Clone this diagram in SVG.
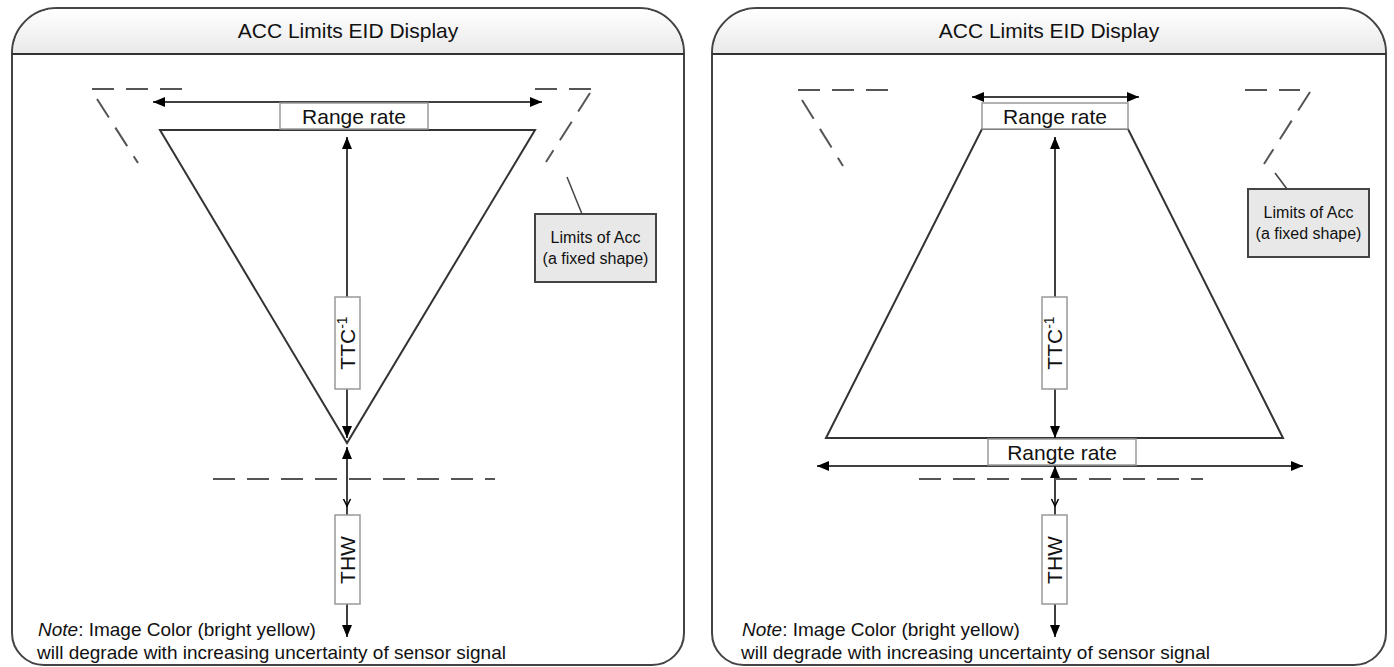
<svg xmlns="http://www.w3.org/2000/svg" width="1394" height="667" viewBox="0 0 1394 667">
<defs>
<linearGradient id="hg" x1="0" y1="0" x2="0" y2="1">
<stop offset="0" stop-color="#ffffff"/>
<stop offset="1" stop-color="#e9e9e9"/>
</linearGradient>
<marker id="ah" viewBox="0 0 12 10" refX="12" refY="5" markerWidth="12" markerHeight="10" markerUnits="userSpaceOnUse" orient="auto-start-reverse">
<path d="M0,0 L12,5 L0,10 z" fill="#000"/>
</marker>
<style>
.frame{fill:#fff;stroke:#444;stroke-width:2}
.hdr{fill:url(#hg);stroke:none}
.hline{stroke:#333;stroke-width:2}
.title{font-family:"Liberation Sans",Arial,sans-serif;font-size:21px;fill:#111;text-anchor:middle}
.lbl{font-family:"Liberation Sans",Arial,sans-serif;font-size:21px;fill:#111;text-anchor:middle}
.small{font-family:"Liberation Sans",Arial,sans-serif;font-size:16px;fill:#111;text-anchor:middle}
.note{font-family:"Liberation Sans",Arial,sans-serif;font-size:19px;fill:#111}
.shape{fill:none;stroke:#333;stroke-width:2}
.dash{fill:none;stroke:#555;stroke-width:2;stroke-dasharray:22 12}
.box{fill:#fff;stroke:#999;stroke-width:1.5}
.gbox{fill:#e8e8e8;stroke:#444;stroke-width:2}
.arr{fill:none;stroke:#000;stroke-width:1.5}
.lead{fill:none;stroke:#444;stroke-width:1.5}
</style>
</defs>

<!-- LEFT PANEL -->
<g id="panel-left">
<path class="frame" d="M12,53 A45,45 0 0 1 57,8 H639 A45,45 0 0 1 684,53 V633 A32,32 0 0 1 652,665 H44 A32,32 0 0 1 12,633 Z"/>
<path class="hdr" d="M13,54 V53 A44,44 0 0 1 57,9 H639 A44,44 0 0 1 683,53 V54 Z"/>
<line class="hline" x1="12" y1="54" x2="684" y2="54"/>
<text class="title" x="348" y="38">ACC Limits EID Display</text>
</g>

<g id="left-limits-dashed">
<path class="dash" d="M92,89 H182"/>
<path class="dash" d="M97,99 L138,163"/>
<path class="dash" d="M535,89 H592"/>
<path class="dash" d="M590,93 L546,162"/>
</g>

<g id="left-triangle">
<path class="shape" d="M160,130 L535,130 L347,443 Z"/>
</g>

<g id="left-connectors">
<line class="arr" x1="153" y1="102" x2="542" y2="102" marker-start="url(#ah)" marker-end="url(#ah)"/>
<line class="arr" x1="347" y1="137" x2="347" y2="438" marker-start="url(#ah)" marker-end="url(#ah)"/>
<line class="arr" x1="347" y1="515" x2="347" y2="447" marker-end="url(#ah)"/>
<path class="arr" d="M343.5,499 L347,506 L350.5,499"/>
<line class="arr" x1="347" y1="604" x2="347" y2="637" marker-end="url(#ah)"/>
<path class="lead" d="M567,177 L582,214"/>
</g>

<g id="left-range-rate">
<rect class="box" x="280" y="103" width="148" height="26"/>
<text class="lbl" x="354" y="124">Range rate</text>
</g>

<g id="left-ttc">
<rect class="box" x="335" y="297" width="25" height="92"/>
<text class="lbl" transform="translate(355,343) rotate(-90)">TTC<tspan dy="-8" font-size="14">-1</tspan></text>
</g>

<g id="left-threshold-dashed">
<path class="dash" d="M213,479 H495"/>
</g>

<g id="left-thw">
<rect class="box" x="335" y="515" width="25" height="89"/>
<text class="lbl" transform="translate(355,560) rotate(-90)">THW</text>
</g>

<g id="left-limits-box">
<rect class="gbox" x="535" y="214" width="121" height="68"/>
<text class="small" x="595.5" y="243">Limits of Acc</text>
<text class="small" x="595.5" y="264">(a fixed shape)</text>
</g>

<g id="left-note">
<text class="note" x="38" y="636"><tspan font-style="italic">Note</tspan>: Image Color (bright yellow)</text>
<text class="note" x="37" y="659">will degrade with increasing uncertainty of sensor signal</text>
</g>

<!-- RIGHT PANEL -->
<g id="panel-right">
<path class="frame" d="M712,53 A45,45 0 0 1 757,8 H1341 A45,45 0 0 1 1386,53 V633 A32,32 0 0 1 1354,665 H744 A32,32 0 0 1 712,633 Z"/>
<path class="hdr" d="M713,54 V53 A44,44 0 0 1 757,9 H1341 A44,44 0 0 1 1385,53 V54 Z"/>
<line class="hline" x1="712" y1="54" x2="1386" y2="54"/>
<text class="title" x="1049" y="38">ACC Limits EID Display</text>
</g>

<g id="right-limits-dashed">
<path class="dash" d="M798,90 H889"/>
<path class="dash" d="M802,100 L843,166"/>
<path class="dash" d="M1245,90 H1300"/>
<path class="dash" d="M1310,92 L1264,164"/>
</g>

<g id="right-trapezoid">
<path class="shape" d="M982,129 L1128,129 L1283,438 L826,438 Z"/>
</g>

<g id="right-connectors">
<line class="arr" x1="972" y1="97" x2="1139" y2="97" marker-start="url(#ah)" marker-end="url(#ah)"/>
<line class="arr" x1="1055" y1="137" x2="1055" y2="438" marker-start="url(#ah)" marker-end="url(#ah)"/>
<line class="arr" x1="817" y1="466" x2="1303" y2="466" marker-start="url(#ah)" marker-end="url(#ah)"/>
<line class="arr" x1="1055" y1="515" x2="1055" y2="466" marker-end="url(#ah)"/>
<path class="arr" d="M1051.5,499 L1055,506 L1058.5,499"/>
<line class="arr" x1="1055" y1="604" x2="1055" y2="637" marker-end="url(#ah)"/>
<path class="lead" d="M1275,173 L1287,189"/>
</g>

<g id="right-range-rate">
<rect class="box" x="982" y="103" width="146" height="26"/>
<text class="lbl" x="1055" y="124">Range rate</text>
</g>

<g id="right-ttc">
<rect class="box" x="1042" y="297" width="25" height="92"/>
<text class="lbl" transform="translate(1062,343) rotate(-90)">TTC<tspan dy="-8" font-size="14">-1</tspan></text>
</g>

<g id="right-rangte-rate">
<rect class="box" x="988" y="439" width="148" height="26"/>
<text class="lbl" x="1062" y="460">Rangte rate</text>
</g>

<g id="right-threshold-dashed">
<path class="dash" d="M919,479 H1203"/>
</g>

<g id="right-thw">
<rect class="box" x="1042" y="515" width="25" height="89"/>
<text class="lbl" transform="translate(1062,560) rotate(-90)">THW</text>
</g>

<g id="right-limits-box">
<rect class="gbox" x="1248" y="189" width="121" height="68"/>
<text class="small" x="1308.5" y="218">Limits of Acc</text>
<text class="small" x="1308.5" y="239">(a fixed shape)</text>
</g>

<g id="right-note">
<text class="note" x="742" y="636"><tspan font-style="italic">Note</tspan>: Image Color (bright yellow)</text>
<text class="note" x="741" y="659">will degrade with increasing uncertainty of sensor signal</text>
</g>
</svg>
